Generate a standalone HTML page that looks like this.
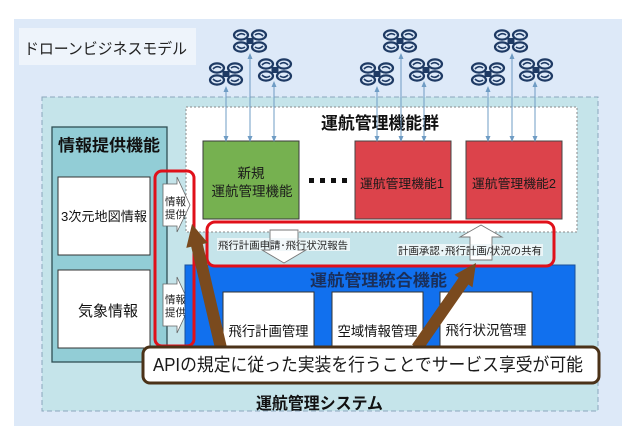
<!DOCTYPE html>
<html><head><meta charset="utf-8">
<style>
html,body{margin:0;padding:0;background:#fff;}
svg{display:block;}
text{font-family:"Liberation Sans","Noto Sans CJK JP",sans-serif;}
</style></head>
<body>
<svg width="635" height="437" viewBox="0 0 635 437" xmlns="http://www.w3.org/2000/svg">
<defs>
  <g id="drone">
    <g fill="none" stroke="#1e3a64" stroke-width="2.2">
      <ellipse cx="-9" cy="-6" rx="7" ry="4.6"/>
      <ellipse cx="9" cy="-6" rx="7" ry="4.6"/>
      <ellipse cx="-9" cy="6" rx="7" ry="4.6"/>
      <ellipse cx="9" cy="6" rx="7" ry="4.6"/>
      <path d="M-13,-5 Q-9,-9 -5,-6" stroke-width="1.6"/>
      <path d="M5,-6 Q9,-9 13,-5" stroke-width="1.6"/>
      <path d="M-13,5 Q-9,9 -5,6" stroke-width="1.6"/>
      <path d="M5,6 Q9,9 13,5" stroke-width="1.6"/>
    </g>
    <rect x="-3.5" y="-3" width="7" height="6" fill="#1e3a64"/>
  </g>
  <marker id="ah" markerWidth="6" markerHeight="6" refX="3" refY="3" orient="auto-start-reverse" markerUnits="userSpaceOnUse">
    <path d="M0,0.5 L6,3 L0,5.5 z" fill="#6f9cc4"/>
  </marker>
</defs>

<!-- outer background -->
<rect x="14" y="19" width="608" height="407" fill="#dde9f8"/>
<!-- title -->
<rect x="19" y="28" width="177" height="37" fill="#eef4fb"/>
<text x="24" y="54" font-size="15.5" fill="#222" textLength="163" lengthAdjust="spacingAndGlyphs">ドローンビジネスモデル</text>

<!-- system box -->
<rect x="42" y="97" width="556" height="314" fill="#c5e4ea" stroke="#8aa6bd" stroke-width="1" stroke-dasharray="5,3"/>

<!-- white dashed box -->
<rect x="186" y="107" width="391" height="125" fill="#fff" stroke="#8a8a8a" stroke-width="1" stroke-dasharray="2,2"/>
<text x="321" y="129" font-size="17" font-weight="bold" fill="#111" textLength="118" lengthAdjust="spacingAndGlyphs">運航管理機能群</text>

<!-- green & red boxes -->
<rect x="203" y="141" width="96" height="78" fill="#76b150" stroke="#3a3a3a" stroke-width="1"/>
<text x="251" y="178" font-size="13.5" fill="#1a1a1a" text-anchor="middle">新規</text>
<text x="252" y="196" font-size="13.5" fill="#1a1a1a" text-anchor="middle" textLength="81" lengthAdjust="spacingAndGlyphs">運航管理機能</text>

<rect x="309" y="178" width="5" height="5" fill="#111"/>
<rect x="320" y="178" width="5" height="5" fill="#111"/>
<rect x="331" y="178" width="5" height="5" fill="#111"/>
<rect x="342" y="178" width="5" height="5" fill="#111"/>

<rect x="355" y="141" width="96" height="78" fill="#dc434b" stroke="#444" stroke-width="1"/>
<text x="360" y="188" font-size="12.5" fill="#1a1a1a" textLength="84" lengthAdjust="spacingAndGlyphs">運航管理機能1</text>
<rect x="466" y="141" width="96" height="78" fill="#dc434b" stroke="#444" stroke-width="1"/>
<text x="472" y="188" font-size="12.5" fill="#1a1a1a" textLength="84" lengthAdjust="spacingAndGlyphs">運航管理機能2</text>

<!-- drone link lines -->
<g stroke="#6f9cc4" stroke-width="1" marker-start="url(#ah)" marker-end="url(#ah)">
  <line x1="226" y1="89" x2="226" y2="139"/>
  <line x1="250" y1="56" x2="250" y2="139"/>
  <line x1="274" y1="84" x2="274" y2="139"/>
  <line x1="377" y1="89" x2="377" y2="139"/>
  <line x1="401" y1="56" x2="401" y2="139"/>
  <line x1="424" y1="84" x2="424" y2="139"/>
  <line x1="488" y1="89" x2="488" y2="139"/>
  <line x1="512" y1="56" x2="512" y2="139"/>
  <line x1="535" y1="84" x2="535" y2="139"/>
</g>

<!-- drones -->
<use href="#drone" x="250" y="41"/>
<use href="#drone" x="226" y="74"/>
<use href="#drone" x="275" y="70"/>
<use href="#drone" x="400" y="41"/>
<use href="#drone" x="377" y="74"/>
<use href="#drone" x="426" y="70"/>
<use href="#drone" x="511" y="41"/>
<use href="#drone" x="488" y="74"/>
<use href="#drone" x="536" y="70"/>

<!-- info box -->
<rect x="52" y="127" width="115" height="235" fill="#92cdd6" stroke="#2f4f55" stroke-width="1.3"/>
<text x="58" y="151" font-size="16.5" font-weight="bold" fill="#111" textLength="102" lengthAdjust="spacingAndGlyphs">情報提供機能</text>
<rect x="58" y="177" width="92" height="78" fill="#fff" stroke="#333" stroke-width="1"/>
<text x="104" y="221" font-size="13" fill="#111" text-anchor="middle" textLength="86" lengthAdjust="spacingAndGlyphs">3次元地図情報</text>
<rect x="58" y="270" width="92" height="78" fill="#fff" stroke="#333" stroke-width="1"/>
<text x="108" y="316" font-size="15" fill="#111" text-anchor="middle">気象情報</text>

<!-- info arrows -->
<polygon points="163,184 177,184 177,177 190,205 177,232 177,226 163,226" fill="#fff" stroke="#666" stroke-width="0.8"/>
<text x="165" y="205" font-size="10.5" fill="#222">情報</text>
<text x="165" y="218" font-size="10.5" fill="#222">提供</text>
<polygon points="163,284 177,284 177,277 190,305 177,333 177,326 163,326" fill="#fff" stroke="#666" stroke-width="0.8"/>
<text x="165" y="303" font-size="10.5" fill="#222">情報</text>
<text x="165" y="316" font-size="10.5" fill="#222">提供</text>

<!-- blue integrated box -->
<rect x="185" y="265" width="390" height="84" fill="#1170ee" stroke="#1a4f9a" stroke-width="1"/>
<text x="310" y="286" font-size="16.5" font-weight="bold" fill="#1a2f5a" textLength="137" lengthAdjust="spacingAndGlyphs">運航管理統合機能</text>
<rect x="223" y="292" width="91" height="58" fill="#fff" stroke="#333" stroke-width="1"/>
<text x="268.5" y="336" font-size="13.5" fill="#111" text-anchor="middle" textLength="80" lengthAdjust="spacingAndGlyphs">飛行計画管理</text>
<rect x="332" y="292" width="91" height="58" fill="#fff" stroke="#333" stroke-width="1"/>
<text x="377.5" y="336" font-size="13.5" fill="#111" text-anchor="middle" textLength="80" lengthAdjust="spacingAndGlyphs">空域情報管理</text>
<rect x="440" y="292" width="92" height="58" fill="#fff" stroke="#333" stroke-width="1"/>
<text x="486" y="335" font-size="13.5" fill="#111" text-anchor="middle" textLength="81" lengthAdjust="spacingAndGlyphs">飛行状況管理</text>

<!-- middle band labels & arrows -->
<polygon points="270,230 298,230 298,250 306,250 284,263 262,250 270,250" fill="#fff"/>
<polygon points="481,225 502,237 492,237 492,260 470,260 470,237 460,237" fill="#fff"/>
<rect x="217" y="238" width="133" height="13" fill="#eef6f8" opacity="0.9"/>
<text x="218" y="249" font-size="10" fill="#222" textLength="130" lengthAdjust="spacingAndGlyphs">飛行計画申請･飛行状況報告</text>
<rect x="397" y="244" width="146" height="12" fill="#eef6f8" opacity="0.9"/>
<text x="398" y="254.5" font-size="10" fill="#222" textLength="144" lengthAdjust="spacingAndGlyphs">計画承認･飛行計画/状況の共有</text>
<polygon points="270,230 298,230 298,250 306,250 284,263 262,250 270,250" fill="none" stroke="#777" stroke-width="0.9"/>
<polygon points="481,225 502,237 492,237 492,260 470,260 470,237 460,237" fill="none" stroke="#777" stroke-width="0.9"/>

<!-- red highlight rects -->
<rect x="155" y="171" width="39" height="175" rx="7" fill="none" stroke="#e0101a" stroke-width="3"/>
<rect x="207" y="222" width="347" height="44" rx="8" fill="none" stroke="#e0101a" stroke-width="3"/>

<!-- brown arrows -->
<polygon points="215.2,349.4 191.2,246.8 186.3,247.9 192,224 207.7,242.9 202.8,244.0 226.8,346.6" fill="#7a4a1e"/>
<polygon points="412.1,344.6 458.6,277.7 454.5,274.8 476,263 472.5,287.4 468.4,284.5 421.9,351.4" fill="#7a4a1e"/>

<!-- callout -->
<rect x="143" y="347" width="456" height="36" rx="7" fill="#fff" stroke="#4b3218" stroke-width="3"/>
<text x="153" y="371" font-size="18" fill="#1a1a1a" textLength="430" lengthAdjust="spacingAndGlyphs">APIの規定に従った実装を行うことでサービス享受が可能</text>

<text x="256" y="409" font-size="16.5" font-weight="bold" fill="#111" textLength="127" lengthAdjust="spacingAndGlyphs">運航管理システム</text>
</svg>
</body></html>
